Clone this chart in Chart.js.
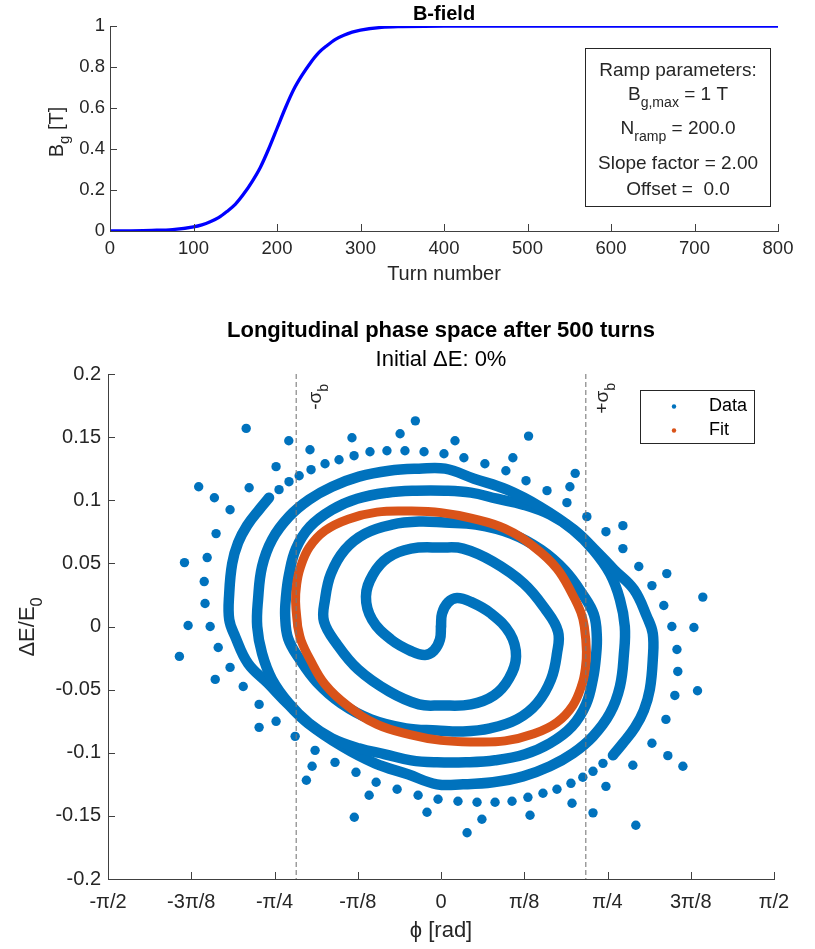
<!DOCTYPE html>
<html>
<head>
<meta charset="utf-8">
<script src="https://cdn.jsdelivr.net/npm/chart.js@4.4.1/dist/chart.umd.min.js"></script>
<style>
  body { margin: 0; background: #fff; width: 815px; height: 949px; overflow: hidden; position: relative; }
  .wrap { position: absolute; left: 0; width: 815px; }
</style>
</head>
<body>
<div class="wrap" style="top:0;height:290px"><canvas id="bfield"></canvas></div>
<div class="wrap" style="top:290px;height:659px"><canvas id="phase"></canvas></div>
<script>
const FONT = "'Liberation Sans', Arial, Helvetica, sans-serif";
const TXT = '#262626';
const AXIS = '#404040';
const BLUE = '#0072BD';
const ORANGE = '#D95319';

// ---- B-field ramp (top panel)
const turns  = [0, 25, 50, 75, 100, 110, 120, 130, 140, 150, 160, 170, 180, 190, 200, 210, 220, 230, 240, 250, 260, 270, 280, 290, 300, 325, 350, 400, 500, 600, 700, 800];
const bField = [0, 0.001, 0.003, 0.007, 0.02, 0.03, 0.045, 0.065, 0.095, 0.13, 0.18, 0.24, 0.31, 0.40, 0.50, 0.60, 0.69, 0.76, 0.82, 0.87, 0.905, 0.935, 0.955, 0.97, 0.98, 0.993, 0.997, 1, 1, 1, 1, 1];
const turnTicks = [0, 100, 200, 300, 400, 500, 600, 700, 800];
const bTicks = [0, 0.2, 0.4, 0.6, 0.8, 1];
const bTickLabels = ['0', '0.2', '0.4', '0.6', '0.8', '1'];
const rampLines = [
  [['Ramp parameters:', 0]],
  [['B', 0], ['g,max', 1], [' = 1 T', 0]],
  [['N', 0], ['ramp', 1], [' = 200.0', 0]],
  [['Slope factor = 2.00', 0]],
  [['Offset =  0.0', 0]]
];

// ---- phase space (bottom panel), phi in rad, dE/E0
// arm A: dense part of the spiral starting at the centre
const armAPhi = [0, 0.005, 0.033, 0.075, 0.137, 0.236, 0.325, 0.354, 0.321, 0.250, 0.141, 0, -0.104, -0.245, -0.391, -0.490, -0.552, -0.547, -0.519, -0.453, -0.358, -0.231, -0.104, 0.019, 0.165, 0.330, 0.471, 0.585, 0.669, 0.721, 0.735, 0.731, 0.717, 0.684, 0.618, 0.514, 0.396, 0.255, 0.118, -0.019, -0.141, -0.264, -0.387, -0.514, -0.622, -0.717, -0.797, -0.844, -0.867, -0.863, -0.844, -0.797, -0.717, -0.622, -0.514, -0.387, -0.245, -0.104, 0.019, 0.156, 0.311, 0.467, 0.627, 0.721, 0.816, 0.910, 0.971, 0.999, 0.999, 0.985, 0.957, 0.915, 0.858, 0.811];
const armADE  = [0, 0.0103, 0.0190, 0.0225, 0.0198, 0.0103, -0.0055, -0.0237, -0.0411, -0.0546, -0.0617, -0.0625, -0.0617, -0.0514, -0.0340, -0.0142, 0.0040, 0.0214, 0.0419, 0.0609, 0.0736, 0.0807, 0.0831, 0.0823, 0.0807, 0.0736, 0.0609, 0.0443, 0.0253, 0.0095, -0.0079, -0.0237, -0.0411, -0.0617, -0.0791, -0.0925, -0.1012, -0.1060, -0.1076, -0.1076, -0.1060, -0.1012, -0.0965, -0.0886, -0.0767, -0.0609, -0.0419, -0.0214, 0, 0.0214, 0.0475, 0.0688, 0.0870, 0.1005, 0.1107, 0.1187, 0.1234, 0.1250, 0.1250, 0.1171, 0.1084, 0.0949, 0.0767, 0.0617, 0.0451, 0.0293, 0.0079, -0.0055, -0.0261, -0.0498, -0.0664, -0.0799, -0.0925, -0.1020];
// arm B: the other arm
const armBPhi = [0, -0.005, -0.033, -0.075, -0.137, -0.236, -0.325, -0.354, -0.321, -0.250, -0.141, 0, 0.104, 0.245, 0.391, 0.490, 0.552, 0.547, 0.519, 0.453, 0.358, 0.231, 0.104, -0.019, -0.165, -0.330, -0.471, -0.585, -0.669, -0.721, -0.735, -0.731, -0.717, -0.684, -0.618, -0.514, -0.396, -0.255, -0.118, 0.019, 0.141, 0.264, 0.387, 0.514, 0.622, 0.717, 0.797, 0.844, 0.867, 0.863, 0.844, 0.797, 0.717, 0.622, 0.514, 0.387, 0.245, 0.104, -0.019, -0.156, -0.311, -0.467, -0.627, -0.721, -0.816, -0.910, -0.971, -0.999, -0.999, -0.985, -0.957, -0.915, -0.858, -0.811];
const armBDE  = [0, -0.0103, -0.0190, -0.0225, -0.0198, -0.0103, 0.0055, 0.0237, 0.0411, 0.0546, 0.0617, 0.0625, 0.0617, 0.0514, 0.0340, 0.0142, -0.0040, -0.0214, -0.0419, -0.0609, -0.0736, -0.0807, -0.0831, -0.0823, -0.0807, -0.0736, -0.0609, -0.0443, -0.0253, -0.0095, 0.0079, 0.0237, 0.0411, 0.0617, 0.0791, 0.0925, 0.1012, 0.1060, 0.1076, 0.1076, 0.1060, 0.1012, 0.0965, 0.0886, 0.0767, 0.0609, 0.0419, 0.0214, 0, -0.0214, -0.0475, -0.0688, -0.0870, -0.1005, -0.1107, -0.1187, -0.1234, -0.1250, -0.1250, -0.1171, -0.1084, -0.0949, -0.0767, -0.0617, -0.0451, -0.0293, -0.0079, 0.0055, 0.0261, 0.0498, 0.0664, 0.0799, 0.0925, 0.1020];
// separate particles further out on each arm
const dotsAPhi = [0.764, 0.717, 0.669, 0.613, 0.547, 0.481, 0.410, 0.335, 0.255, 0.170, 0.080, -0.014, -0.108, -0.207, -0.306, -0.401, -0.500, -0.594, -0.688, -0.778, -0.858, -0.933, -0.995, -1.051, -1.089, -1.113, -1.117, -1.103, -1.061, -0.995, -0.905, -0.778, -0.618, -0.420, -0.193, 0.066, 0.339, 0.608, 0.858, 1.065, 1.193];
const dotsADE  = [-0.1084, -0.1147, -0.1194, -0.1242, -0.1289, -0.1321, -0.1353, -0.1384, -0.1392, -0.1392, -0.1384, -0.1368, -0.1337, -0.1289, -0.1234, -0.1155, -0.1076, -0.0981, -0.0870, -0.0751, -0.0617, -0.0475, -0.0324, -0.0166, 0, 0.0182, 0.0356, 0.0546, 0.0736, 0.0925, 0.1099, 0.1266, 0.1400, 0.1495, 0.1527, 0.1471, 0.1337, 0.1107, 0.0799, 0.0419, -0.0008];
const dotsBPhi = [-0.764, -0.717, -0.669, -0.613, -0.547, -0.481, -0.410, -0.335, -0.255, -0.170, -0.080, 0.014, 0.108, 0.207, 0.306, 0.401, 0.500, 0.594, 0.688, 0.778, 0.858, 0.933, 0.995, 1.051, 1.089, 1.113, 1.117, 1.103, 1.061, 0.995, 0.905, 0.778, 0.618, 0.420, 0.193, -0.066, -0.339, -0.608, -0.858, -1.065, -1.193];
const dotsBDE  = [0.1084, 0.1147, 0.1194, 0.1242, 0.1289, 0.1321, 0.1353, 0.1384, 0.1392, 0.1392, 0.1384, 0.1368, 0.1337, 0.1289, 0.1234, 0.1155, 0.1076, 0.0981, 0.0870, 0.0751, 0.0617, 0.0475, 0.0324, 0.0166, 0, -0.0182, -0.0356, -0.0546, -0.0736, -0.0925, -0.1099, -0.1266, -0.1400, -0.1495, -0.1527, -0.1471, -0.1337, -0.1107, -0.0799, -0.0419, 0.0008];
// outermost stray particles
const outerPhi = [-0.919, -0.121, -0.718, -1.143, -1.069, -1.210, 0.413, 0.633, 1.235, 0.919, 0.123, 0.717, 1.141, 1.070, 1.210, -0.409, -0.635, -1.234];
const outerDE  = [0.1569, 0.1629, 0.1471, 0.1107, 0.1020, 0.0506, 0.1508, 0.1213, 0.0233, -0.1574, -0.1634, -0.1476, -0.1107, -0.1023, -0.0509, -0.1511, -0.1218, -0.0237];
// fitted ellipse
const fitPhi = [-0.676, -0.686, -0.681, -0.665, -0.622, -0.547, -0.438, -0.302, -0.146, 0, 0.141, 0.302, 0.443, 0.547, 0.618, 0.660, 0.676, 0.686, 0.681, 0.665, 0.622, 0.547, 0.438, 0.302, 0.146, 0, -0.141, -0.302, -0.443, -0.547, -0.618, -0.660, -0.676];
const fitDE  = [0, 0.0198, 0.0332, 0.0459, 0.0625, 0.0759, 0.0850, 0.0906, 0.0914, 0.0902, 0.0858, 0.0775, 0.0625, 0.0459, 0.0261, 0.0111, 0, -0.0198, -0.0332, -0.0459, -0.0625, -0.0759, -0.0850, -0.0906, -0.0914, -0.0902, -0.0858, -0.0775, -0.0625, -0.0459, -0.0261, -0.0111, 0];
const sigmaB = 0.683;

const phiTicks = [-4, -3, -2, -1, 0, 1, 2, 3, 4].map(k => k * Math.PI / 8);
const phiTickLabels = ['-\u03c0/2', '-3\u03c0/8', '-\u03c0/4', '-\u03c0/8', '0', '\u03c0/8', '\u03c0/4', '3\u03c0/8', '\u03c0/2'];
const deTicks = [-0.2, -0.15, -0.1, -0.05, 0, 0.05, 0.1, 0.15, 0.2];
const deTickLabels = ['-0.2', '-0.15', '-0.1', '-0.05', '0', '0.05', '0.1', '0.15', '0.2'];

function pts(xs, ys) {
  return xs.map((x, i) => ({ x: x, y: ys[i] }));
}

// draws text with subscripts; parts = [[text, isSub], ...]
function richWidth(ctx, parts, size) {
  let w = 0;
  parts.forEach(p => {
    ctx.font = (p[1] ? size * 0.74 : size) + 'px ' + FONT;
    w += ctx.measureText(p[0]).width;
  });
  return w;
}
function drawRich(ctx, parts, x, y, size, align) {
  const w = richWidth(ctx, parts, size);
  let cx = align === 'center' ? x - w / 2 : (align === 'right' ? x - w : x);
  ctx.textAlign = 'left';
  ctx.textBaseline = 'middle';
  parts.forEach(p => {
    ctx.font = (p[1] ? size * 0.74 : size) + 'px ' + FONT;
    ctx.fillText(p[0], cx, y + (p[1] ? size * 0.42 : 0));
    cx += ctx.measureText(p[0]).width;
  });
}
function text(ctx, str, x, y, size, align, bold, color) {
  ctx.font = (bold ? 'bold ' : '') + size + 'px ' + FONT;
  ctx.fillStyle = color || TXT;
  ctx.textAlign = align;
  ctx.textBaseline = 'middle';
  ctx.fillText(str, x, y);
}

// inward tick marks and labels, drawn by hand
function drawAxes(chart, xVals, xLabels, yVals, yLabels, o) {
  const ctx = chart.ctx, a = chart.chartArea;
  const xs = chart.scales.x, ys = chart.scales.y;
  ctx.save();
  ctx.strokeStyle = AXIS;
  ctx.lineWidth = 1;
  ctx.beginPath();
  xVals.forEach(v => {
    const px = Math.round(xs.getPixelForValue(v)) + 0.5;
    ctx.moveTo(px, a.bottom); ctx.lineTo(px, a.bottom - 7);
  });
  yVals.forEach(v => {
    const py = Math.round(ys.getPixelForValue(v)) + 0.5;
    ctx.moveTo(a.left, py); ctx.lineTo(a.left + 7, py);
  });
  ctx.stroke();
  xVals.forEach((v, i) => text(ctx, xLabels[i], xs.getPixelForValue(v), o.xLabelY, o.size, 'center'));
  yVals.forEach((v, i) => text(ctx, yLabels[i], o.yLabelX, ys.getPixelForValue(v), o.size, 'right'));
  ctx.restore();
}

const topDecor = {
  id: 'topDecor',
  afterDraw(chart) {
    const ctx = chart.ctx, a = chart.chartArea;
    drawAxes(chart, turnTicks, turnTicks.map(String), bTicks, bTickLabels,
      { xLabelY: 248.5, yLabelX: 105, size: 18.5 });
    ctx.save();
    text(ctx, 'B-field', (a.left + a.right) / 2, 14, 20, 'center', true, '#000');
    text(ctx, 'Turn number', (a.left + a.right) / 2, 274, 20, 'center');
    ctx.fillStyle = TXT;
    ctx.translate(57, 132);
    ctx.rotate(-Math.PI / 2);
    drawRich(ctx, [['B', 0], ['g', 1], [' [T]', 0]], 0, 0, 20, 'center');
    ctx.restore();

    // ramp parameter box
    ctx.save();
    ctx.fillStyle = '#fff';
    ctx.strokeStyle = TXT;
    ctx.lineWidth = 1;
    ctx.fillRect(585.5, 48.5, 185, 158);
    ctx.strokeRect(585.5, 48.5, 185, 158);
    ctx.fillStyle = TXT;
    const ly = [70.5, 95, 129, 164, 190];
    rampLines.forEach((parts, i) => drawRich(ctx, parts, 678, ly[i], 19, 'center'));
    ctx.restore();
  }
};

const OFF = 290; // page offset of the bottom canvas
const phaseDecor = {
  id: 'phaseDecor',
  afterDatasetsDraw(chart) {
    const ctx = chart.ctx, a = chart.chartArea, xs = chart.scales.x;
    ctx.save();
    ctx.strokeStyle = 'rgba(120,120,120,0.9)';
    ctx.lineWidth = 1.2;
    ctx.setLineDash([5, 3]);
    [-sigmaB, sigmaB].forEach(v => {
      const px = xs.getPixelForValue(v);
      ctx.beginPath();
      ctx.moveTo(px, a.top); ctx.lineTo(px, a.bottom);
      ctx.stroke();
    });
    ctx.restore();
  },
  afterDraw(chart) {
    const ctx = chart.ctx, a = chart.chartArea, xs = chart.scales.x;
    drawAxes(chart, phiTicks, phiTickLabels, deTicks, deTickLabels,
      { xLabelY: 902 - OFF, yLabelX: 101, size: 20 });
    ctx.save();
    const cx = (a.left + a.right) / 2;
    text(ctx, 'Longitudinal phase space after 500 turns', cx, 331 - OFF, 22, 'center', true, '#000');
    text(ctx, 'Initial \u0394E: 0%', cx, 360 - OFF, 22, 'center', false, '#000');
    text(ctx, '\u03d5 [rad]', cx, 931 - OFF, 22, 'center');
    ctx.fillStyle = TXT;
    ctx.translate(28, 627 - OFF);
    ctx.rotate(-Math.PI / 2);
    drawRich(ctx, [['\u0394E/E', 0], ['0', 1]], 0, 0, 22, 'center');
    ctx.restore();

    // sigma labels next to the dashed lines
    [[-sigmaB, '-', 20, 384], [sigmaB, '+', 17, 383]].forEach(s => {
      const parts = [[s[1] + '\u03c3', 0], ['b', 1]];
      const w = richWidth(ctx, parts, 19);
      ctx.save();
      ctx.fillStyle = '#262626';
      ctx.translate(xs.getPixelForValue(s[0]) + s[2], s[3] - OFF + w);
      ctx.rotate(-Math.PI / 2);
      drawRich(ctx, parts, 0, 0, 19, 'left');
      ctx.restore();
    });

    // legend
    ctx.save();
    const bx = 640.5, by = 390.5 - OFF;
    ctx.fillStyle = '#fff';
    ctx.strokeStyle = TXT;
    ctx.lineWidth = 1;
    ctx.fillRect(bx, by, 114, 53);
    ctx.strokeRect(bx, by, 114, 53);
    [[BLUE, 'Data', 406.5], [ORANGE, 'Fit', 430.5]].forEach(l => {
      ctx.fillStyle = l[0];
      ctx.beginPath();
      ctx.arc(674, l[2] - OFF, 2.2, 0, Math.PI * 2);
      ctx.fill();
      text(ctx, l[1], 709, l[2] - OFF, 18, 'left', false, '#000');
    });
    ctx.restore();
  }
};

function axisOpts(min, max, fit) {
  return {
    type: 'linear', min: min, max: max,
    ticks: { display: false },
    grid: { display: false, drawTicks: false },
    border: { display: true, color: AXIS, width: 1 },
    afterFit: fit
  };
}

new Chart(document.getElementById('bfield'), {
  type: 'scatter',
  data: {
    datasets: [{
      data: pts(turns, bField),
      showLine: true,
      borderColor: '#0000ff',
      borderWidth: 3.3,
      pointRadius: 0,
      cubicInterpolationMode: 'monotone'
    }]
  },
  options: {
    responsive: true,
    maintainAspectRatio: false,
    animation: false,
    layout: { padding: { left: 0, right: 37, top: 26, bottom: 0 } },
    plugins: { legend: { display: false }, tooltip: { enabled: false } },
    scales: {
      x: axisOpts(0, 800, s => { s.height = 59; }),
      y: axisOpts(0, 1, s => { s.width = 110; })
    }
  },
  plugins: [topDecor]
});

const lineStyle = { showLine: true, pointRadius: 0, tension: 0.4, borderCapStyle: 'round', borderJoinStyle: 'round' };
const dotStyle = { showLine: false, pointRadius: 4.7, pointBorderWidth: 0, pointBackgroundColor: BLUE, borderColor: BLUE };

new Chart(document.getElementById('phase'), {
  type: 'scatter',
  data: {
    datasets: [
      Object.assign({ label: 'Fit', data: pts(fitPhi, fitDE), borderColor: ORANGE, borderWidth: 9, order: 0 }, lineStyle),
      Object.assign({ label: 'Data', data: pts(armAPhi, armADE), borderColor: BLUE, borderWidth: 10.5, order: 1 }, lineStyle),
      Object.assign({ label: 'Data', data: pts(armBPhi, armBDE), borderColor: BLUE, borderWidth: 10.5, order: 1 }, lineStyle),
      Object.assign({ label: 'Data', data: pts(dotsAPhi, dotsADE), order: 2 }, dotStyle),
      Object.assign({ label: 'Data', data: pts(dotsBPhi, dotsBDE), order: 2 }, dotStyle),
      Object.assign({ label: 'Data', data: pts(outerPhi, outerDE), order: 2 }, dotStyle)
    ]
  },
  options: {
    responsive: true,
    maintainAspectRatio: false,
    animation: false,
    layout: { padding: { left: 0, right: 41, top: 84, bottom: 0 } },
    plugins: { legend: { display: false }, tooltip: { enabled: false } },
    scales: {
      x: axisOpts(-Math.PI / 2, Math.PI / 2, s => { s.height = 70; }),
      y: axisOpts(-0.2, 0.2, s => { s.width = 108; })
    }
  },
  plugins: [phaseDecor]
});
</script>
</body>
</html>
